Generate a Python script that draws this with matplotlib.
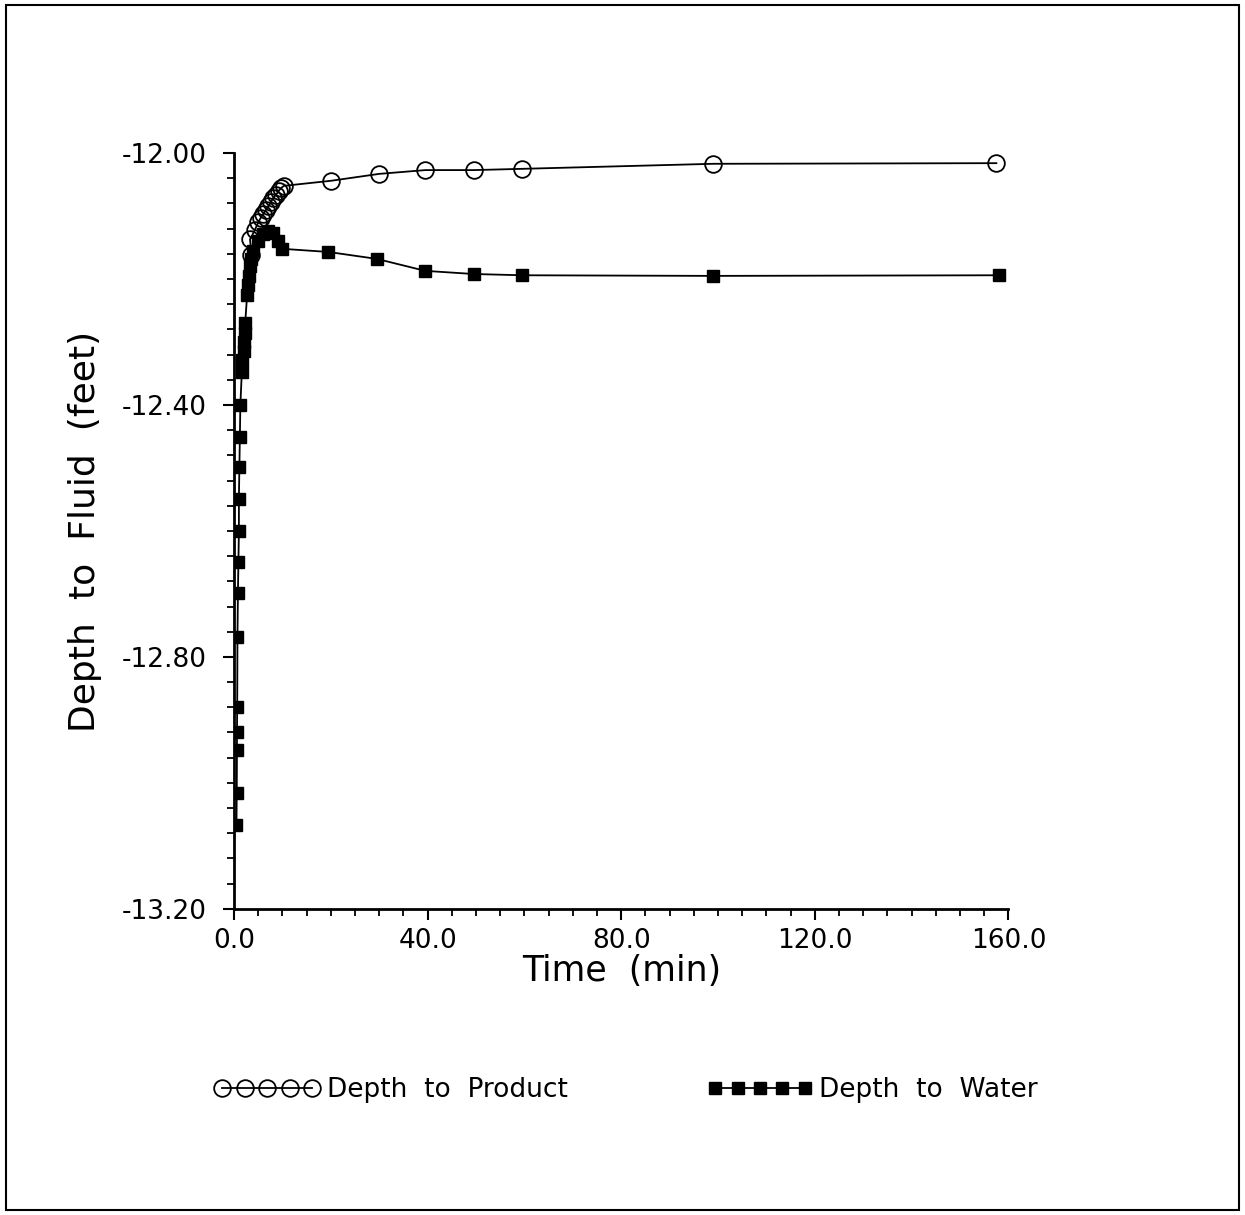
import matplotlib
matplotlib.use("Agg")
import matplotlib.pyplot as plt
from matplotlib.ticker import MultipleLocator, FormatStrFormatter
from matplotlib.patches import Rectangle

# product level readings (open circles)
product_time = [3.6, 3.3, 4.3, 5.0, 5.5, 6.0, 6.6, 7.1, 7.6, 8.1, 8.7, 9.2, 9.8, 10.3,
                20.0, 30.0, 39.5, 49.5, 59.5, 99.0, 157.5]
product_depth = [-12.162, -12.137, -12.122, -12.110, -12.103, -12.097, -12.090, -12.084,
                 -12.078, -12.071, -12.066, -12.060, -12.055, -12.052,
                 -12.044, -12.033, -12.027, -12.027, -12.025, -12.017, -12.016]

# water level readings (filled squares)
water_time = [0.5, 0.55, 0.6, 0.6, 0.65, 0.7, 0.8, 0.9, 1.0, 1.0, 1.1, 1.2, 1.3, 1.6, 1.7,
              2.0, 2.1, 2.2, 2.3, 2.7, 2.9, 3.1, 3.3, 3.6, 4.0, 5.0, 6.0, 7.0, 8.0, 9.0, 10.0,
              19.5, 29.5, 39.5, 49.5, 59.5, 99.0, 158.0]
water_depth = [-13.067, -13.016, -12.948, -12.919, -12.879, -12.768, -12.698, -12.649,
               -12.600, -12.549, -12.498, -12.451, -12.400, -12.348, -12.329,
               -12.315, -12.300, -12.285, -12.270, -12.225, -12.210, -12.195, -12.180,
               -12.168, -12.155, -12.140, -12.128, -12.124, -12.127, -12.140, -12.152,
               -12.157, -12.168, -12.187, -12.192, -12.194, -12.195, -12.194]

fig = plt.figure(figsize=(12.45, 12.15), dpi=100)
fig.patches.append(Rectangle((0.005, 0.004), 0.99, 0.992, transform=fig.transFigure,
                             fill=False, edgecolor="black", linewidth=1.5))

ax = fig.add_axes([0.188, 0.252, 0.622, 0.622])

ax.plot(water_time, water_depth, color="black", linewidth=1.3, marker="s",
        markersize=8, markerfacecolor="black", markeredgecolor="black",
        label="Depth  to  Water", zorder=2)
ax.plot(product_time, product_depth, color="black", linewidth=1.3, marker="o",
        markersize=12, markerfacecolor="none", markeredgecolor="black",
        markeredgewidth=1.3, label="Depth  to  Product", zorder=3)

ax.set_xlim(0, 160)
ax.set_ylim(-13.2, -12.0)
ax.xaxis.set_major_locator(MultipleLocator(40))
ax.xaxis.set_minor_locator(MultipleLocator(5))
ax.yaxis.set_major_locator(MultipleLocator(0.4))
ax.yaxis.set_minor_locator(MultipleLocator(0.04))
ax.xaxis.set_major_formatter(FormatStrFormatter("%.1f"))
ax.yaxis.set_major_formatter(FormatStrFormatter("%.2f"))

for side in ("top", "right"):
    ax.spines[side].set_visible(False)
for side in ("left", "bottom"):
    ax.spines[side].set_linewidth(2)

ax.tick_params(which="major", direction="out", length=8, width=1.5, labelsize=19)
ax.tick_params(axis="x", which="major", pad=6)
ax.tick_params(axis="y", which="major", pad=12)
ax.tick_params(which="minor", direction="out", length=5, width=1.3)

ax.set_xlabel("Time  (min)", fontsize=25, labelpad=0)
ax.set_ylabel("Depth  to  Fluid  (feet)", fontsize=26, labelpad=14)

handles, labels = ax.get_legend_handles_labels()
fig.legend(handles[::-1], labels[::-1], loc="center", bbox_to_anchor=(0.503, 0.103),
           ncol=2, numpoints=5, handlelength=4.0, handletextpad=0.25,
           columnspacing=5.3, frameon=False, fontsize=19)

fig.savefig("out.png", dpi=100)
